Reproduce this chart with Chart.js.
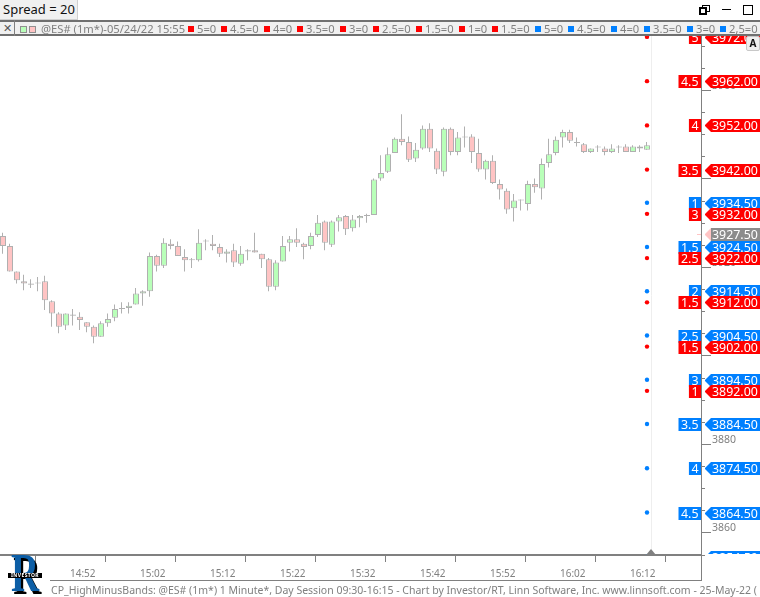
<!DOCTYPE html>
<html>
<head>
<meta charset="utf-8">
<script src="https://cdn.jsdelivr.net/npm/chart.js@4"></script>
<style>
html, body { margin: 0; padding: 0; background: #fff; width: 760px; height: 597px; overflow: hidden; }
body { position: relative; font-family: "Noto Sans", sans-serif; }
#myChart { position: absolute; left: 0; top: 0; }
.abs { position: absolute; white-space: nowrap; }
#spread { left: 0; top: 0; width: 77px; height: 19px; background: #f0f0f0; border: 1px solid #d0d0d0; border-left: 0; border-top: 0; font-size: 13px; line-height: 19px; text-indent: 3px; color: #111; }
#legendBar { left: 0; top: 20px; width: 760px; height: 12px; background: #f0f0f0; border-top: 2px solid #707070; border-bottom: 2px solid #707070; }
#closeBox { left: 0; top: 20px; width: 14px; height: 16px; line-height: 15px; border-right: 1px solid #808080; text-align: center; font-size: 11px; color: #555; }
.lg { position: absolute; top: 22px; font-size: 11.2px; line-height: 14px; color: #808080; }
.sw { position: absolute; top: 26px; width: 6px; height: 6px; border: 0; }
#aBtn { left: 746px; top: 36px; width: 12px; height: 13px; background: #f0f0f0; border: 1px solid #c8c8c8; border-radius: 2px; font-size: 10px; font-weight: bold; line-height: 13px; text-align: center; color: #111; }
#footerLine { left: 50px; top: 580px; width: 652px; height: 1px; background: #808080; }
#axisTail { left: 701px; top: 556px; width: 1px; height: 25px; background: #808080; }
#footer { left: 51px; top: 582px; width: 709px; overflow: hidden; font-size: 10.5px; line-height: 16px; color: #808080; }
#logoR { left: 11px; top: 546px; font-family: "Liberation Serif", serif; font-weight: bold; font-size: 54px; line-height: 54px; color: #0c5ea6; text-shadow: 3px 3px 0 #000; transform: scaleX(0.72); transform-origin: left top; }
#logoBand { left: 8px; top: 573px; width: 34px; height: 5px; background: #000; color: #fff; font-size: 5px; line-height: 5px; font-weight: bold; text-align: center; letter-spacing: 0.4px; }
.win { position: absolute; box-sizing: border-box; }
</style>
</head>
<body>
<canvas id="myChart" width="760" height="597"></canvas>

<div id="spread" class="abs">Spread = 20</div>
<div id="legendBar" class="abs"></div>
<div id="closeBox" class="abs">✕</div>
<div id="aBtn" class="abs">A</div>
<div id="footerLine" class="abs"></div>
<div id="axisTail" class="abs"></div>
<div id="footer" class="abs">CP_HighMinusBands: @ES# (1m*) 1 Minute*, Day Session 09:30-16:15 - Chart by Investor/RT, Linn Software, Inc. www.linnsoft.com - 25-May-22 (</div>
<div id="logoR" class="abs">R</div>
<div id="logoBand" class="abs">INVESTOR</div>
<div class="win" style="left:702px;top:5px;width:8px;height:7px;border:1px solid #000;"></div>
<div class="win" style="left:699px;top:7px;width:8px;height:8px;border:2px solid #000;background:#fff;"></div>
<div class="win" style="left:722px;top:9px;width:9px;height:1px;background:#000;"></div>
<div class="win" style="left:743px;top:5px;width:10px;height:10px;border:1px solid #000;"></div>

<script>
// candles, one per minute from 14:42
const opens = [3927,3924.75,3919,3916.75,3916.25,3916.5,3916.75,3912.25,3909.5,3906.75,3909.25,3908.75,3907.5,3906.5,3904.25,3907.25,3908.5,3910.75,3910.75,3911.5,3914,3914.5,3922.5,3920.25,3925.25,3924.75,3922.25,3921.75,3921.5,3926,3925.25,3924.5,3923,3923.75,3920.75,3923.75,3923.75,3923,3921.75,3915.5,3921.25,3925.5,3926.25,3925.25,3924.75,3927.25,3930.25,3925,3930.25,3931.5,3928.75,3931,3931.75,3931.75,3940,3941.5,3945.75,3949,3948.25,3944.5,3946.75,3951.25,3946.25,3941.5,3951.25,3946,3949.5,3949.5,3945.75,3942,3944,3938.75,3937.25,3933.25,3935.25,3934.25,3938.75,3937.75,3943.5,3945.75,3949.25,3950.5,3948.25,3947.75,3946,3947.25,3946.75,3946,3947.25,3947.25,3946,3947.25,3946.5];
const highs = [3927.75,3925.25,3919,3918.25,3917.25,3917.75,3918,3912.5,3909.75,3909.5,3910.5,3909.75,3907.5,3906.75,3907.75,3909.5,3911.5,3912,3912,3915.25,3914.75,3923.25,3922.75,3926.5,3926.25,3925.75,3924,3922,3928.5,3926.25,3927.25,3925.25,3924,3925.25,3924.75,3924,3927.75,3923,3922,3921.5,3927,3927,3928.75,3925.5,3927.75,3931.75,3930.5,3930.5,3931.75,3931.75,3931.75,3931.75,3932,3940,3945.25,3947,3949.25,3954.5,3949.5,3948,3952,3952.5,3946.75,3951.5,3951.5,3950.5,3951.75,3950,3949,3944.25,3945.25,3939.75,3937.75,3936.5,3935.25,3939.5,3940,3944.5,3949,3949.5,3951,3951,3949.25,3948,3946.75,3947.5,3947.25,3947.75,3947.5,3947.75,3947.5,3947.5,3948.25];
const lows = [3923,3919,3916.25,3914.75,3915.25,3914.5,3910.25,3906.5,3905,3905.75,3906.75,3905.75,3905.25,3902.75,3904.25,3906.5,3907.75,3909.5,3909.5,3911.5,3911.25,3913.25,3919,3919.75,3924,3922.5,3919,3919.75,3921.25,3923.75,3923.75,3922.25,3921,3920,3920.25,3921.5,3923.25,3919.75,3914.5,3914.75,3921.25,3923.5,3924.5,3921.75,3924,3926.75,3923.75,3924.5,3928,3927.25,3928,3929,3930,3931.75,3939.5,3941.25,3945.75,3947.5,3943.75,3943.75,3946.5,3946,3941,3940.5,3945.25,3945.25,3947,3943.5,3941.5,3939.75,3938.75,3935.25,3932,3930.25,3932.75,3932.75,3936.75,3935.25,3942.5,3945.25,3947,3948,3947.25,3945.75,3945.75,3946,3945.25,3945.75,3945.75,3946,3946,3946,3946.5];
const closes = [3924.75,3919,3917,3916.25,3916,3916.25,3912.5,3909.5,3906.5,3909.5,3909,3908,3906.5,3904.25,3907.25,3908.25,3910.5,3910.5,3911.25,3914,3914.5,3922.5,3920.25,3925.5,3924.75,3922.5,3921.5,3921.5,3925.5,3925.75,3924.75,3923,3923.5,3921,3923,3923.5,3923.25,3921.75,3915.5,3921,3924.75,3926.25,3925.5,3924.5,3927,3930,3925.5,3930.25,3931.25,3928.5,3930.75,3931.5,3931.5,3939.75,3941.25,3945.5,3949,3948.25,3944.25,3946.5,3951.25,3946.75,3942,3951.25,3946,3949.25,3949.25,3946,3942,3944,3939,3937.5,3933,3935,3935,3938.75,3938,3943.25,3945.5,3948.75,3950.5,3948.5,3948,3946,3946.75,3947,3946,3946.75,3947,3946,3947.25,3946.75,3947.5];

const xTickLabels = ['14:52','15:02','15:12','15:22','15:32','15:42','15:52','16:02','16:12'];

const redBandPrices = [3972,3962,3952,3942,3932,3922,3912,3902,3892];
const redBandLabels = ['5','4.5','4','3.5','3','2.5','1.5','1.5','1'];
const blueBandPrices = [3934.5,3924.5,3914.5,3904.5,3894.5,3884.5,3874.5,3864.5,3854.5];
const blueBandLabels = ['1','1.5','2','2.5','3','3.5','4','4.5','5'];
const lastPrice = 3927.5;

const legendRed = ['5=0','4.5=0','4=0','3.5=0','3=0','2.5=0','1.5=0','1=0','1.5=0'];
const legendBlue = ['5=0','4.5=0','4=0','3.5=0','3=0','2,5=0'];

const upColor = '#b9ffb9';
const downColor = '#ffc4c4';
const edgeColor = '#b0b0b0';
const axisColor = '#808080';
const redColor = '#ff0000';
const blueColor = '#0080ff';

// legend strip
function addLegendText(text, left) {
    const el = document.createElement('div');
    el.className = 'lg';
    el.style.left = left + 'px';
    el.textContent = text;
    document.body.appendChild(el);
}
function addSwatch(color, left, edge) {
    const el = document.createElement('div');
    el.className = 'sw';
    el.style.left = left + 'px';
    el.style.background = color;
    if (edge) {
        el.style.boxSizing = 'border-box';
        el.style.border = '1px solid ' + edge;
        el.style.width = '7px';
        el.style.height = '7px';
    }
    document.body.appendChild(el);
}
addSwatch(upColor, 20, '#909090');
addSwatch(downColor, 29, '#909090');
addLegendText('@ES# (1m*)-05/24/22 15:55', 41);
let legendX = 188;
legendRed.concat(legendBlue).forEach((text, i) => {
    addSwatch(i < legendRed.length ? redColor : blueColor, legendX);
    addLegendText(text, legendX + 9);
    legendX += text.length === 3 ? 33 : 43;
});

// candle x is the bar index, one index is 7px
const candleX = opens.map((v, i) => i);
const bodies = candleX.map((x, i) => ({ x: x, y: [opens[i], closes[i]] }));
const wicks = candleX.map((x, i) => ({ x: x, y: [lows[i], highs[i]] }));
const bodyColors = candleX.map((x, i) => closes[i] >= opens[i] ? upColor : downColor);
const lastIndex = candleX.length - 1;

const bandLayer = {
    id: 'bandLayer',
    beforeDatasetsDraw(chart) {
        const ctx = chart.ctx;
        const area = chart.chartArea;
        const x = Math.round(chart.scales.x.getPixelForValue(lastIndex + 0.5)) + 0.5;
        ctx.save();
        ctx.strokeStyle = '#eeeeee';
        ctx.lineWidth = 1;
        ctx.beginPath();
        ctx.moveTo(x, area.top);
        ctx.lineTo(x, area.bottom);
        ctx.stroke();
        ctx.restore();
    },
    afterDraw(chart) {
        const ctx = chart.ctx;
        const area = chart.chartArea;
        const yScale = chart.scales.y;
        const w = chart.width;

        // axis marks, long ones carry the labels
        ctx.save();
        ctx.strokeStyle = axisColor;
        ctx.lineWidth = 1;
        yScale.ticks.forEach((t, i) => {
            const y = Math.round(yScale.getPixelForTick(i)) + 0.5;
            ctx.beginPath();
            ctx.moveTo(area.right, y);
            ctx.lineTo(area.right + (t.value % 20 === 0 ? 10 : 4), y);
            ctx.stroke();
        });
        ctx.restore();

        ctx.save();
        ctx.beginPath();
        ctx.rect(0, area.top, w, area.bottom - area.top - 1);
        ctx.clip();
        ctx.font = '12.4px "Noto Sans"';
        ctx.textBaseline = 'middle';
        ctx.textAlign = 'left';

        function flag(price, label, color) {
            const y = Math.round(yScale.getPixelForValue(price));
            ctx.fillStyle = color;
            ctx.beginPath();
            ctx.moveTo(705, y);
            ctx.lineTo(711, y - 6);
            ctx.lineTo(w, y - 6);
            ctx.lineTo(w, y + 7);
            ctx.lineTo(711, y + 7);
            ctx.lineTo(705, y + 1);
            ctx.closePath();
            ctx.fill();
            if (price >= yScale.min) {
                const tw = ctx.measureText(label).width + 5;
                ctx.fillRect(area.right - tw, y - 6, tw, 13);
                ctx.fillStyle = '#fff';
                ctx.fillText(label, area.right - tw + 2.5, y + 1);
            }
            ctx.fillStyle = '#fff';
            ctx.fillText(price.toFixed(2), 712, y + 1);
        }
        blueBandPrices.forEach((p, i) => flag(p, blueBandLabels[i], blueColor));
        redBandPrices.forEach((p, i) => flag(p, redBandLabels[i], redColor));

        // last price
        const ly = Math.round(yScale.getPixelForValue(lastPrice));
        ctx.fillStyle = downColor;
        ctx.beginPath();
        ctx.moveTo(705, ly);
        ctx.lineTo(711, ly - 6);
        ctx.lineTo(711, ly + 7);
        ctx.lineTo(705, ly + 1);
        ctx.closePath();
        ctx.fill();
        ctx.fillRect(697, ly, 4, 1);
        ctx.fillStyle = '#8c8c8c';
        ctx.fillRect(711, ly - 6, w - 711, 13);
        ctx.fillStyle = '#fff';
        ctx.fillText(lastPrice.toFixed(2), 712, ly + 1);
        ctx.restore();

        // small marker under the current bar
        const mx = Math.round(chart.scales.x.getPixelForValue(lastIndex + 0.5));
        ctx.save();
        ctx.fillStyle = '#808080';
        ctx.beginPath();
        ctx.moveTo(mx, area.bottom - 6);
        ctx.lineTo(mx + 5, area.bottom);
        ctx.lineTo(mx - 5, area.bottom);
        ctx.closePath();
        ctx.fill();
        ctx.restore();
    }
};

const config = {
    type: 'bar',
    data: {
        datasets: [
            {
                label: 'wick',
                data: wicks,
                xAxisID: 'xWick',
                backgroundColor: edgeColor,
                borderWidth: 0,
                inflateAmount: 0,
                grouped: false,
                barPercentage: 1,
                categoryPercentage: 1,
                maxBarThickness: 1,
                order: 3
            },
            {
                label: 'body',
                data: bodies,
                backgroundColor: bodyColors,
                borderColor: edgeColor,
                borderWidth: 1,
                borderSkipped: false,
                inflateAmount: 0,
                grouped: false,
                barPercentage: 1,
                categoryPercentage: 1,
                maxBarThickness: 6,
                order: 2
            },
            {
                type: 'line',
                label: 'red bands',
                data: redBandPrices.map(p => ({ x: lastIndex, y: p })),
                showLine: false,
                pointRadius: 2.2,
                pointBackgroundColor: redColor,
                pointBorderWidth: 0,
                order: 1
            },
            {
                type: 'line',
                label: 'blue bands',
                data: blueBandPrices.map(p => ({ x: lastIndex, y: p })),
                showLine: false,
                pointRadius: 2.2,
                pointBackgroundColor: blueColor,
                pointBorderWidth: 0,
                order: 1
            }
        ]
    },
    options: {
        responsive: false,
        animation: false,
        events: [],
        layout: { autoPadding: false, padding: { top: 36 } },
        plugins: {
            legend: { display: false },
            title: { display: false },
            tooltip: { enabled: false }
        },
        scales: {
            x: {
                type: 'linear',
                min: -3 / 7,
                max: 698 / 7,
                offset: false,
                afterBuildTicks(scale) {
                    scale.ticks = xTickLabels.map((t, k) => ({ value: 10 + k * 10 - 3 / 7 }));
                },
                afterFit(scale) { scale.height = 42; },
                grid: { drawOnChartArea: false, drawTicks: true, tickLength: 7, tickColor: axisColor },
                border: { color: axisColor, width: 2 },
                ticks: {
                    autoSkip: false,
                    maxRotation: 0,
                    align: 'start',
                    padding: 6,
                    color: axisColor,
                    font: { family: 'Noto Sans', size: 10 },
                    callback: (v, i) => xTickLabels[i]
                }
            },
            // same range as x, half a pixel over so a 1px wick sits on a whole pixel
            xWick: {
                type: 'linear',
                display: false,
                offset: false,
                min: -2.5 / 7,
                max: 698.5 / 7
            },
            y: {
                position: 'right',
                min: 3854.9,
                max: 3972.2,
                afterFit(scale) { scale.width = 59; },
                grid: { drawOnChartArea: false, drawTicks: false },
                border: { color: axisColor, width: 1 },
                ticks: {
                    stepSize: 5,
                    includeBounds: false,
                    autoSkip: false,
                    padding: 11,
                    labelOffset: -4,
                    color: axisColor,
                    font: { family: 'Noto Sans', size: 10.5 },
                    callback: v => v % 20 === 0 ? String(v) : ''
                }
            }
        }
    },
    plugins: [bandLayer]
};

new Chart('myChart', config);
</script>
</body>
</html>
